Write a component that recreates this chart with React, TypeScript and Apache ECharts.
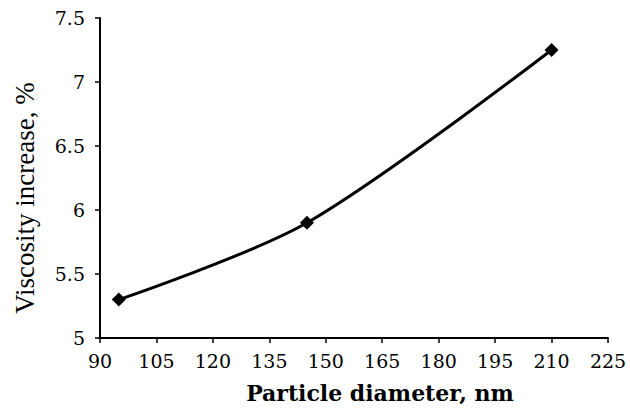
import React, { useEffect, useRef } from "react";
import * as echarts from "echarts";

const diameters = [95, 145, 210];
const viscosityIncrease = [5.3, 5.9, 7.25];
const xTitle = "Particle diameter, nm";
const yTitle = "Viscosity increase, %";

export default function App() {
  const ref = useRef<HTMLDivElement>(null);
  useEffect(() => {
    const chart = echarts.init(ref.current!, null, { renderer: "svg" });
    const tickFont = "'DejaVu Serif', serif";
    chart.setOption({
      animation: false,
      backgroundColor: "#ffffff",
      grid: { left: 100, right: 22, top: 18, bottom: 70 },
      graphic: [
        {
          type: "text",
          x: 25,
          y: 198,
          rotation: Math.PI / 2,
          style: {
            text: yTitle,
            font: "27px 'Liberation Serif', serif",
            fill: "#000",
            textAlign: "center",
            textVerticalAlign: "middle",
          },
        },
        {
          type: "text",
          x: 380,
          y: 393,
          style: {
            text: xTitle,
            font: "bold 22px 'DejaVu Serif', serif",
            fill: "#000",
            textAlign: "center",
            textVerticalAlign: "middle",
          },
        },
      ],
      xAxis: {
        type: "value",
        min: 90,
        max: 225,
        interval: 15,
        axisLine: { lineStyle: { color: "#000", width: 2 } },
        axisTick: { show: true, length: 5, lineStyle: { color: "#000", width: 1.5 } },
        axisLabel: { fontFamily: tickFont, fontSize: 19, color: "#000", margin: 13 },
        splitLine: { show: false },
      },
      yAxis: {
        type: "value",
        min: 5,
        max: 7.5,
        interval: 0.5,
        axisLine: { show: true, lineStyle: { color: "#000", width: 2 } },
        axisTick: { show: true, length: 5, lineStyle: { color: "#000", width: 1.5 } },
        axisLabel: { fontFamily: tickFont, fontSize: 19, color: "#000", margin: 15 },
        splitLine: { show: false },
      },
      series: [
        {
          type: "line",
          data: diameters.map((d, i) => [d, viscosityIncrease[i]]),
          smooth: 0.3,
          symbol: "diamond",
          symbolSize: 14,
          itemStyle: { color: "#000" },
          lineStyle: { color: "#000", width: 3 },
        },
      ],
    });
    return () => chart.dispose();
  }, []);
  return <div ref={ref} style={{ width: 630, height: 408, position: "absolute", left: 0, top: 0 }} />;
}
